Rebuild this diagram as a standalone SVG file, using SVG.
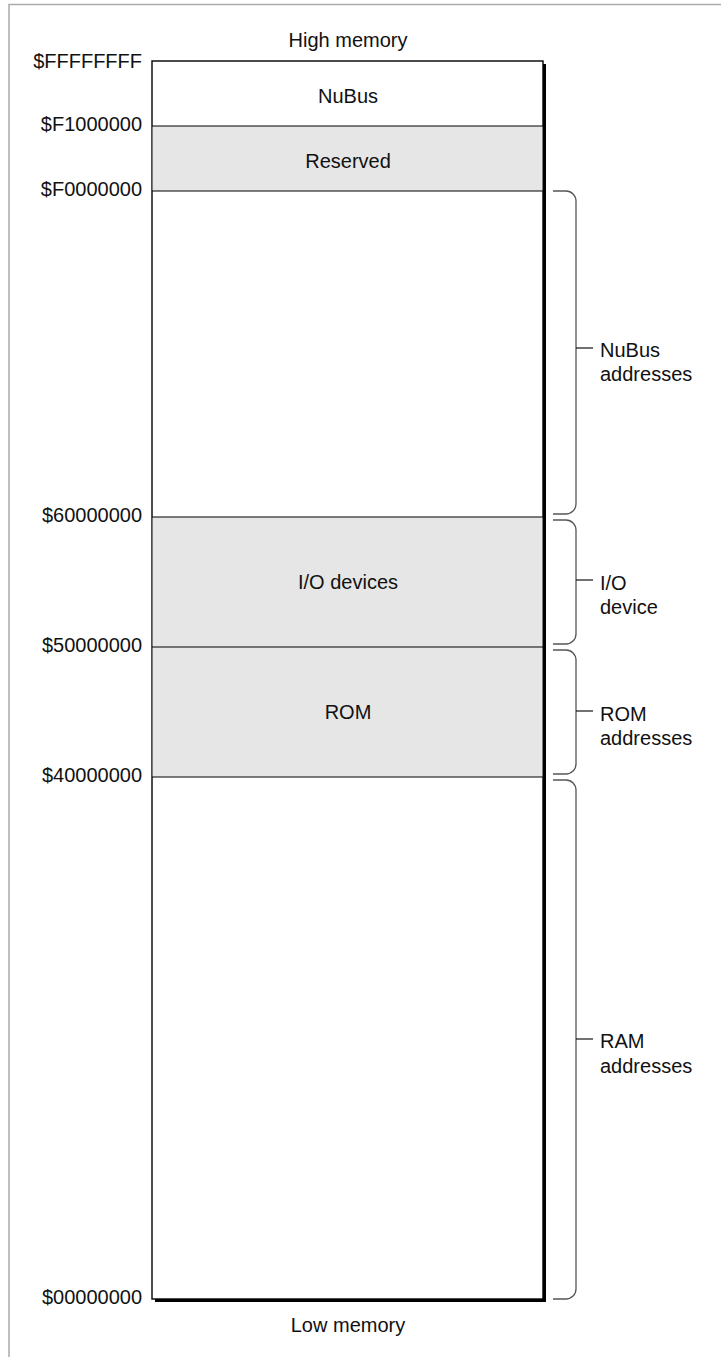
<svg xmlns="http://www.w3.org/2000/svg" width="721" height="1357" viewBox="0 0 721 1357">
<style>
text{font-family:"Liberation Sans",Arial,sans-serif;font-size:20px;fill:#111}
.addr{text-anchor:end}
.mid{text-anchor:middle}
.sep{stroke:#000;stroke-width:1.2}
.brace{fill:none;stroke:#555;stroke-width:1.3}
.tick{stroke:#111;stroke-width:1.2}
</style>
<rect width="721" height="1357" fill="#fff"/>
<path d="M9 1357 V4.5 H721" fill="none" stroke="#aaa" stroke-width="1.5"/>
<text class="mid" x="348" y="47">High memory</text>
<text class="mid" x="348" y="1332">Low memory</text>
<g id="memory-map">
<rect x="155" y="64" width="391" height="1238" fill="#000"/>
<rect x="152" y="61" width="391" height="1238" fill="#fff" stroke="#000" stroke-width="1.4"/>
</g>
<g id="nubus"><text class="mid" x="348" y="103">NuBus</text></g>
<g id="reserved"><rect x="152.7" y="126" width="389.6" height="65" fill="#e6e6e6"/><text class="mid" x="348" y="168">Reserved</text></g>
<g id="io"><rect x="152.7" y="517" width="389.6" height="130" fill="#e6e6e6"/><text class="mid" x="348" y="589">I/O devices</text></g>
<g id="rom"><rect x="152.7" y="647" width="389.6" height="130" fill="#e6e6e6"/><text class="mid" x="348" y="719">ROM</text></g>
<g id="separators">
<line class="sep" x1="152" y1="126" x2="543" y2="126"/>
<line class="sep" x1="152" y1="191" x2="543" y2="191"/>
<line class="sep" x1="152" y1="517" x2="543" y2="517"/>
<line class="sep" x1="152" y1="647" x2="543" y2="647"/>
<line class="sep" x1="152" y1="777" x2="543" y2="777"/>
</g>
<g id="addresses">
<text class="addr" x="142" y="68">$FFFFFFFF</text>
<text class="addr" x="142" y="131">$F1000000</text>
<text class="addr" x="142" y="196">$F0000000</text>
<text class="addr" x="142" y="522">$60000000</text>
<text class="addr" x="142" y="652">$50000000</text>
<text class="addr" x="142" y="782">$40000000</text>
<text class="addr" x="142" y="1304">$00000000</text>
</g>
<g id="connectors">
<path class="brace" d="M553 191 H566 A10 10 0 0 1 576 201 V504 A10 10 0 0 1 566 514 H553"/>
<line class="tick" x1="576" y1="348" x2="593" y2="348"/>
<path class="brace" d="M553 520 H566 A10 10 0 0 1 576 530 V634 A10 10 0 0 1 566 644 H553"/>
<line class="tick" x1="576" y1="580" x2="593" y2="580"/>
<path class="brace" d="M553 650 H566 A10 10 0 0 1 576 660 V764 A10 10 0 0 1 566 774 H553"/>
<line class="tick" x1="576" y1="711" x2="593" y2="711"/>
<path class="brace" d="M553 780 H566 A10 10 0 0 1 576 790 V1289 A10 10 0 0 1 566 1299 H553"/>
<line class="tick" x1="576" y1="1039" x2="593" y2="1039"/>
</g>
<g id="label-nubus"><text x="600" y="357">NuBus</text><text x="600" y="381">addresses</text></g>
<g id="label-io"><text x="600" y="590">I/O</text><text x="600" y="614">device</text></g>
<g id="label-rom"><text x="600" y="721">ROM</text><text x="600" y="745">addresses</text></g>
<g id="label-ram"><text x="600" y="1048">RAM</text><text x="600" y="1073">addresses</text></g>
</svg>
